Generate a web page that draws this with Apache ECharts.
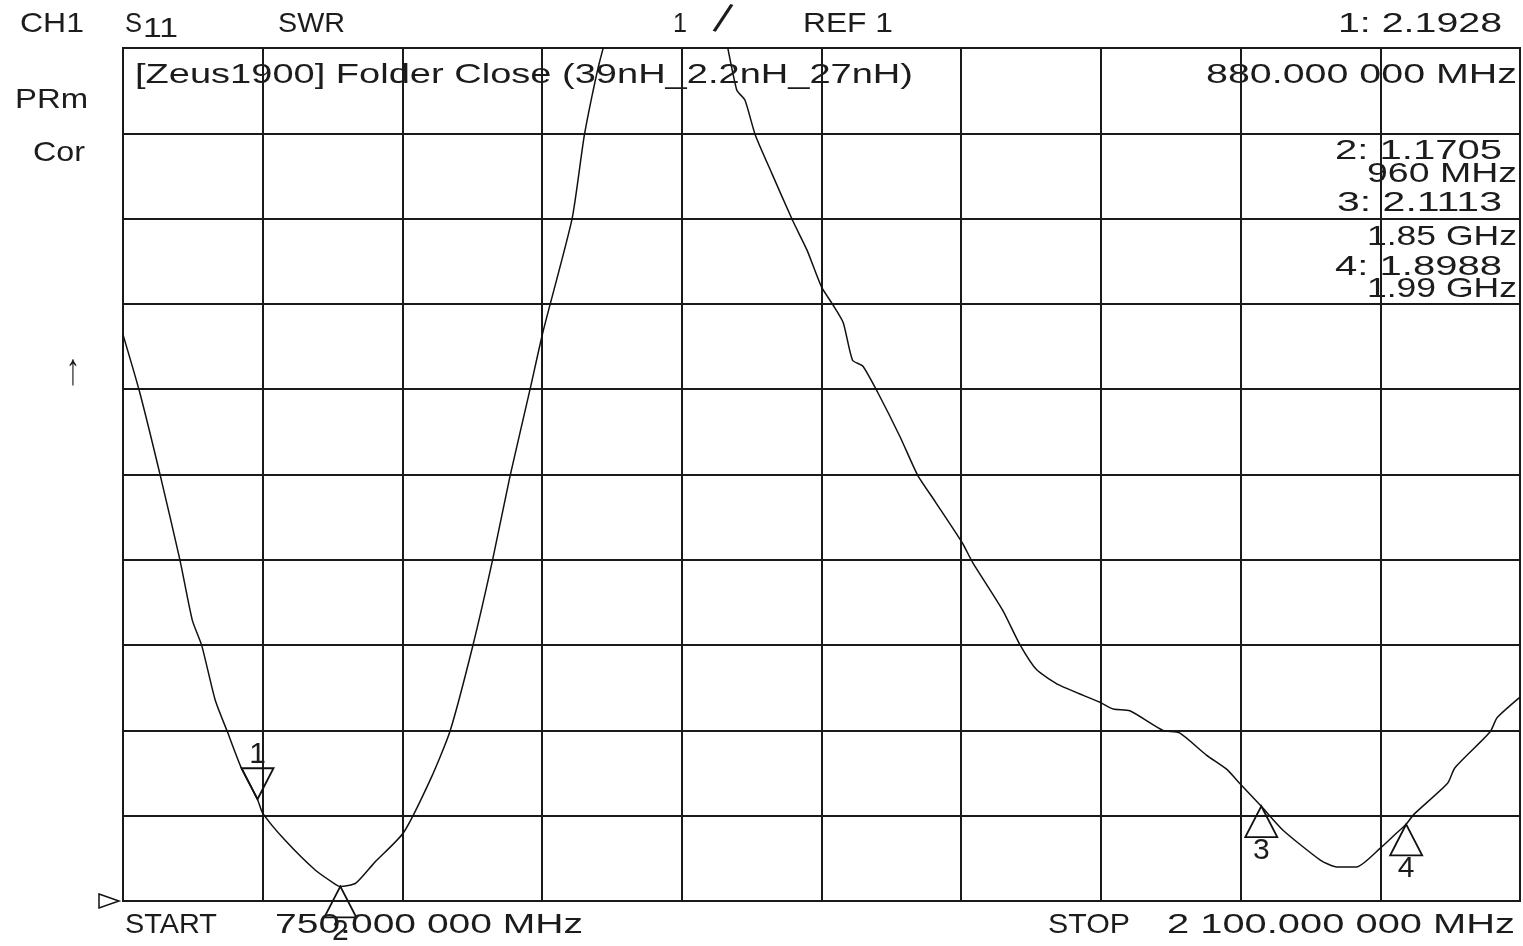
<!DOCTYPE html>
<html>
<head>
<meta charset="utf-8">
<script src="https://cdn.jsdelivr.net/npm/echarts@6/dist/echarts.min.js"></script>
<style>
html,body{margin:0;padding:0;background:#fff;}
#chart{width:1523px;height:946px;}
</style>
</head>
<body>
<div id="chart"></div>
<script>
// ---- data ----
const freqMHz = [750,766,786,805,817,826,839,851,864,880,885,906,936,956,960,975,993,1021,1048,1066,1088,1107,1124,1143,1156,1184,1196,1211,1240,1275,1315,1343,1351,1361,1377,1397,1411,1425,1436,1446,1455,1465,1479,1501,1518,1535,1561,1571,1600,1617,1633,1655,1694,1707,1723,1755,1771,1797,1817,1829,1850,1871,1907,1923,1942,1965,1981,1990,1997,2030,2037,2071,2078,2100];
const swr = [7.64,6.97,5.99,5.00,4.29,4.00,3.36,2.98,2.57,2.19,2.03,1.72,1.36,1.19,1.17,1.21,1.45,1.80,2.45,2.99,3.99,4.99,5.98,6.98,7.68,9.00,9.99,10.86,12.0,12.4,12.0,10.51,10.39,9.98,9.53,8.98,8.63,8.20,7.99,7.78,7.34,7.27,6.97,6.44,5.99,5.68,5.20,4.97,4.41,4.00,3.71,3.53,3.33,3.25,3.23,3.00,2.97,2.71,2.54,2.38,2.11,1.83,1.48,1.40,1.40,1.62,1.80,1.90,2.01,2.38,2.56,2.98,3.15,3.39];
const markerFreq = [880, 960, 1850, 1990];
const markerSwr = [2.1928, 1.1705, 2.1113, 1.8988];
const markerNames = ['1', '2', '3', '4'];
const startMHz = 750, stopMHz = 2100, refValue = 1, scalePerDiv = 1;
const headerTexts = ['CH1', 'S', '11', 'SWR', '1', '/', 'REF 1', '1: 2.1928', 'PRm', 'Cor', '\u2191'];
const titleText = '[Zeus1900] Folder Close (39nH_2.2nH_27nH)';
const markerReadout = ['880.000 000 MHz', '2: 1.1705', '960 MHz', '3: 2.1113', '1.85 GHz', '4: 1.8988', '1.99 GHz'];
const footerTexts = ['START', '750.000 000 MHz', 'STOP', '2 100.000 000 MHz'];

// ---- styling / layout ----
const FONT_FAMILY = '"Liberation Sans", "DejaVu Sans", sans-serif';
const FS = 28;
const INK = '#1c1c1c';
const measureCtx = document.createElement('canvas').getContext('2d');
function fitText(text, x, y, width, align, size, sy, rot) {
  size = size || FS;
  const font = size + 'px ' + FONT_FAMILY;
  measureCtx.font = font;
  const w = measureCtx.measureText(text).width || 1;
  const s = width ? width / w : 1;
  return {
    type: 'text', x: x, y: y, scaleX: s, scaleY: sy || 1, rotation: rot || 0, silent: true, z: 10,
    style: { text: text, font: font, fill: INK,
      align: align || 'left', textAlign: align || 'left',
      verticalAlign: 'middle', textVerticalAlign: 'middle' }
  };
}
const upTri = 'path://M16,0L32,31L0,31Z';
const downTri = 'path://M0,0L32,0L16,31Z';
const markerDir = ['down', 'up', 'up', 'up'];

const chart = echarts.init(document.getElementById('chart'), null, { renderer: 'canvas' });

const texts = [
  fitText(headerTexts[0], 20, 24, 64, 'left'),
  fitText(headerTexts[1], 125, 24, 17, 'left'),
  fitText(headerTexts[2], 143, 29, 35, 'left'),
  fitText(headerTexts[3], 278, 24, 67, 'left'),
  fitText(headerTexts[4], 673, 24, 14, 'left'),
  fitText(headerTexts[5], 722, 21, null, 'center', 42, 1, -0.32),
  fitText(headerTexts[6], 803, 24, 90, 'left'),
  fitText(headerTexts[7], 1502, 24, 164, 'right'),
  fitText(headerTexts[8], 15, 100, 73, 'left'),
  fitText(headerTexts[9], 33, 153, 52, 'left'),
  fitText(headerTexts[10], 73, 372, 14, 'center', 30, 1.5),
  fitText(titleText, 135, 75, 778, 'left'),
  fitText(markerReadout[0], 1517, 75, 311, 'right'),
  fitText(markerReadout[1], 1502, 151, 167, 'right'),
  fitText(markerReadout[2], 1517, 174, 150, 'right'),
  fitText(markerReadout[3], 1502, 203, 165, 'right'),
  fitText(markerReadout[4], 1517, 237, 150, 'right'),
  fitText(markerReadout[5], 1502, 267, 167, 'right'),
  fitText(markerReadout[6], 1517, 289, 150, 'right'),
  fitText(footerTexts[0], 125, 925, 92, 'left'),
  fitText(footerTexts[1], 275, 925, 308, 'left'),
  fitText(footerTexts[2], 1048, 925, 82, 'left'),
  fitText(footerTexts[3], 1515, 925, 348, 'right')
];

const option = {
  animation: false,
  backgroundColor: '#fff',
  grid: { left: 123, right: 3, top: 48, bottom: 45, show: true, borderColor: '#111', borderWidth: 2, backgroundColor: 'transparent' },
  xAxis: {
    type: 'value', min: startMHz, max: stopMHz, interval: (stopMHz - startMHz) / 10,
    axisLabel: { show: false }, axisTick: { show: false }, axisLine: { show: false },
    splitLine: { show: true, lineStyle: { color: '#1a1a1a', width: 2 } }
  },
  yAxis: {
    type: 'value', min: refValue, max: refValue + 10 * scalePerDiv, interval: scalePerDiv,
    axisLabel: { show: false }, axisTick: { show: false }, axisLine: { show: false },
    splitLine: { show: true, lineStyle: { color: '#1a1a1a', width: 2 } }
  },
  series: [
    {
      type: 'line', data: freqMHz.map((f, i) => [f, swr[i]]),
      showSymbol: false, smooth: 0.2, clip: true, silent: true, z: 5,
      lineStyle: { color: '#111', width: 1.5 }
    },
    {
      type: 'scatter', silent: true, z: 6, clip: false,
      data: markerFreq.map((f, i) => ({
        value: [f, markerSwr[i]],
        symbol: markerDir[i] === 'down' ? downTri : upTri,
        symbolOffset: markerDir[i] === 'down' ? [0, -15.5] : [0, 15.5],
        label: {
          show: true, formatter: markerNames[i], fontSize: 30, color: INK, opacity: 1,
          fontFamily: FONT_FAMILY,
          position: markerDir[i] === 'down' ? 'top' : 'bottom',
          distance: -2
        }
      })),
      symbolSize: [32, 31],
      itemStyle: { color: 'rgba(0,0,0,0)', borderColor: '#111', borderWidth: 1.8, opacity: 1 },
      label: { color: INK, fontFamily: FONT_FAMILY, fontSize: 30 }
    }
  ],
  graphic: texts
};
chart.setOption(option);

// reference-level indicator at REF value, placed through the axis scale
const refY = chart.convertToPixel({ yAxisIndex: 0 }, refValue);
const leftX = chart.convertToPixel({ xAxisIndex: 0 }, startMHz);
chart.setOption({
  graphic: texts.concat([{
    type: 'polygon', silent: true, z: 10,
    shape: { points: [[leftX - 24, refY - 7], [leftX - 4, refY], [leftX - 24, refY + 7]] },
    style: { fill: 'none', stroke: '#111', lineWidth: 1.5 }
  }])
});
</script>
</body>
</html>
